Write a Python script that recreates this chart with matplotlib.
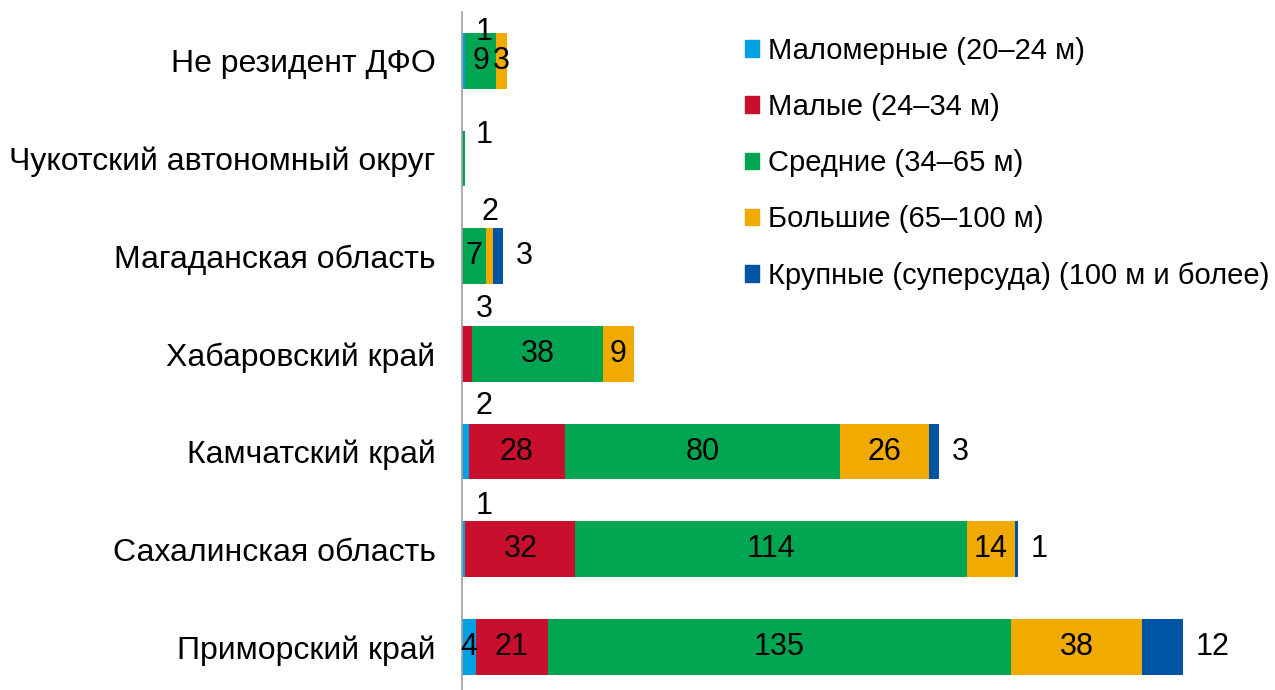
import matplotlib
matplotlib.use("Agg")
import matplotlib.pyplot as plt
from matplotlib.patches import Patch

plt.rcParams['font.family'] = ['Liberation Sans', 'DejaVu Sans']

regions = ["Приморский край", "Сахалинская область", "Камчатский край",
           "Хабаровский край", "Магаданская область",
           "Чукотский автономный округ", "Не резидент ДФО"]
series_names = ["Маломерные (20–24 м)", "Малые (24–34 м)", "Средние (34–65 м)",
                "Большие (65–100 м)", "Крупные (суперсуда) (100 м и более)"]
malomernye = [4, 1, 2, 0, 0, 0, 1]
malye = [21, 32, 28, 3, 0, 0, 0]
srednie = [135, 114, 80, 38, 7, 1, 9]
bolshie = [38, 14, 26, 9, 2, 0, 3]
krupnye = [12, 1, 3, 0, 3, 0, 0]
series = [malomernye, malye, srednie, bolshie, krupnye]
colors = ["#00A0E2", "#C8102E", "#00A551", "#F0AA00", "#0054A4"]

# labels placed above the bar: (series index, region index) -> vertical offset (pt)
above = {(0, 1): 11, (0, 2): 13, (0, 6): 1, (1, 3): 12, (3, 4): 12, (2, 5): -3}

fig = plt.figure(figsize=(12.75, 6.9), dpi=100)
ax = fig.add_axes([462 / 1275, 0, 1 - 462 / 1275, 1 - 12 / 690])
px = (1275 - 462) / 3.433  # data units spanning axes
ax.set_xlim(0, px)
ax.set_ylim(-0.44, 6.5)

h = 0.57
LBL = 22
left = [0] * len(regions)
for si, vals in enumerate(series):
    ax.barh(range(len(regions)), vals, left=left, height=h, color=colors[si],
            edgecolor='none', zorder=2)
    for ri, v in enumerate(vals):
        if v == 0:
            continue
        cx = left[ri] + v / 2
        if si == 4:
            ax.annotate(str(v), (left[ri] + v, ri), xytext=(9, 0),
                        textcoords='offset points', ha='left', va='center',
                        fontsize=LBL)
        elif (si, ri) in above:
            ax.annotate(str(v), (max(cx, 6.5), ri + h / 2),
                        xytext=(0, above[(si, ri)]),
                        textcoords='offset points', ha='center', va='center',
                        fontsize=LBL, zorder=4)
        else:
            ax.text(cx, ri, str(v), ha='center', va='center', fontsize=LBL,
                    color='black', zorder=3)
    left = [l + v for l, v in zip(left, vals)]

ax.set_yticks(range(len(regions)))
ax.set_yticklabels(regions, fontsize=23)
ax.tick_params(axis='y', length=0, pad=19)
ax.set_xticks([])
for s in ['top', 'right', 'bottom']:
    ax.spines[s].set_visible(False)
ax.spines['left'].set_color('#A0A0A0')
ax.spines['left'].set_linewidth(1.2)

handles = [Patch(color=c) for c in colors]
fig.legend(handles, series_names, loc='upper left',
           bbox_to_anchor=(730 / 1275, 1 - 22 / 690), frameon=False,
           fontsize=21, handlelength=0.5, handleheight=0.5,
           handletextpad=0.3, labelspacing=0.97, borderpad=0)

fig.savefig("out.png", dpi=100)
